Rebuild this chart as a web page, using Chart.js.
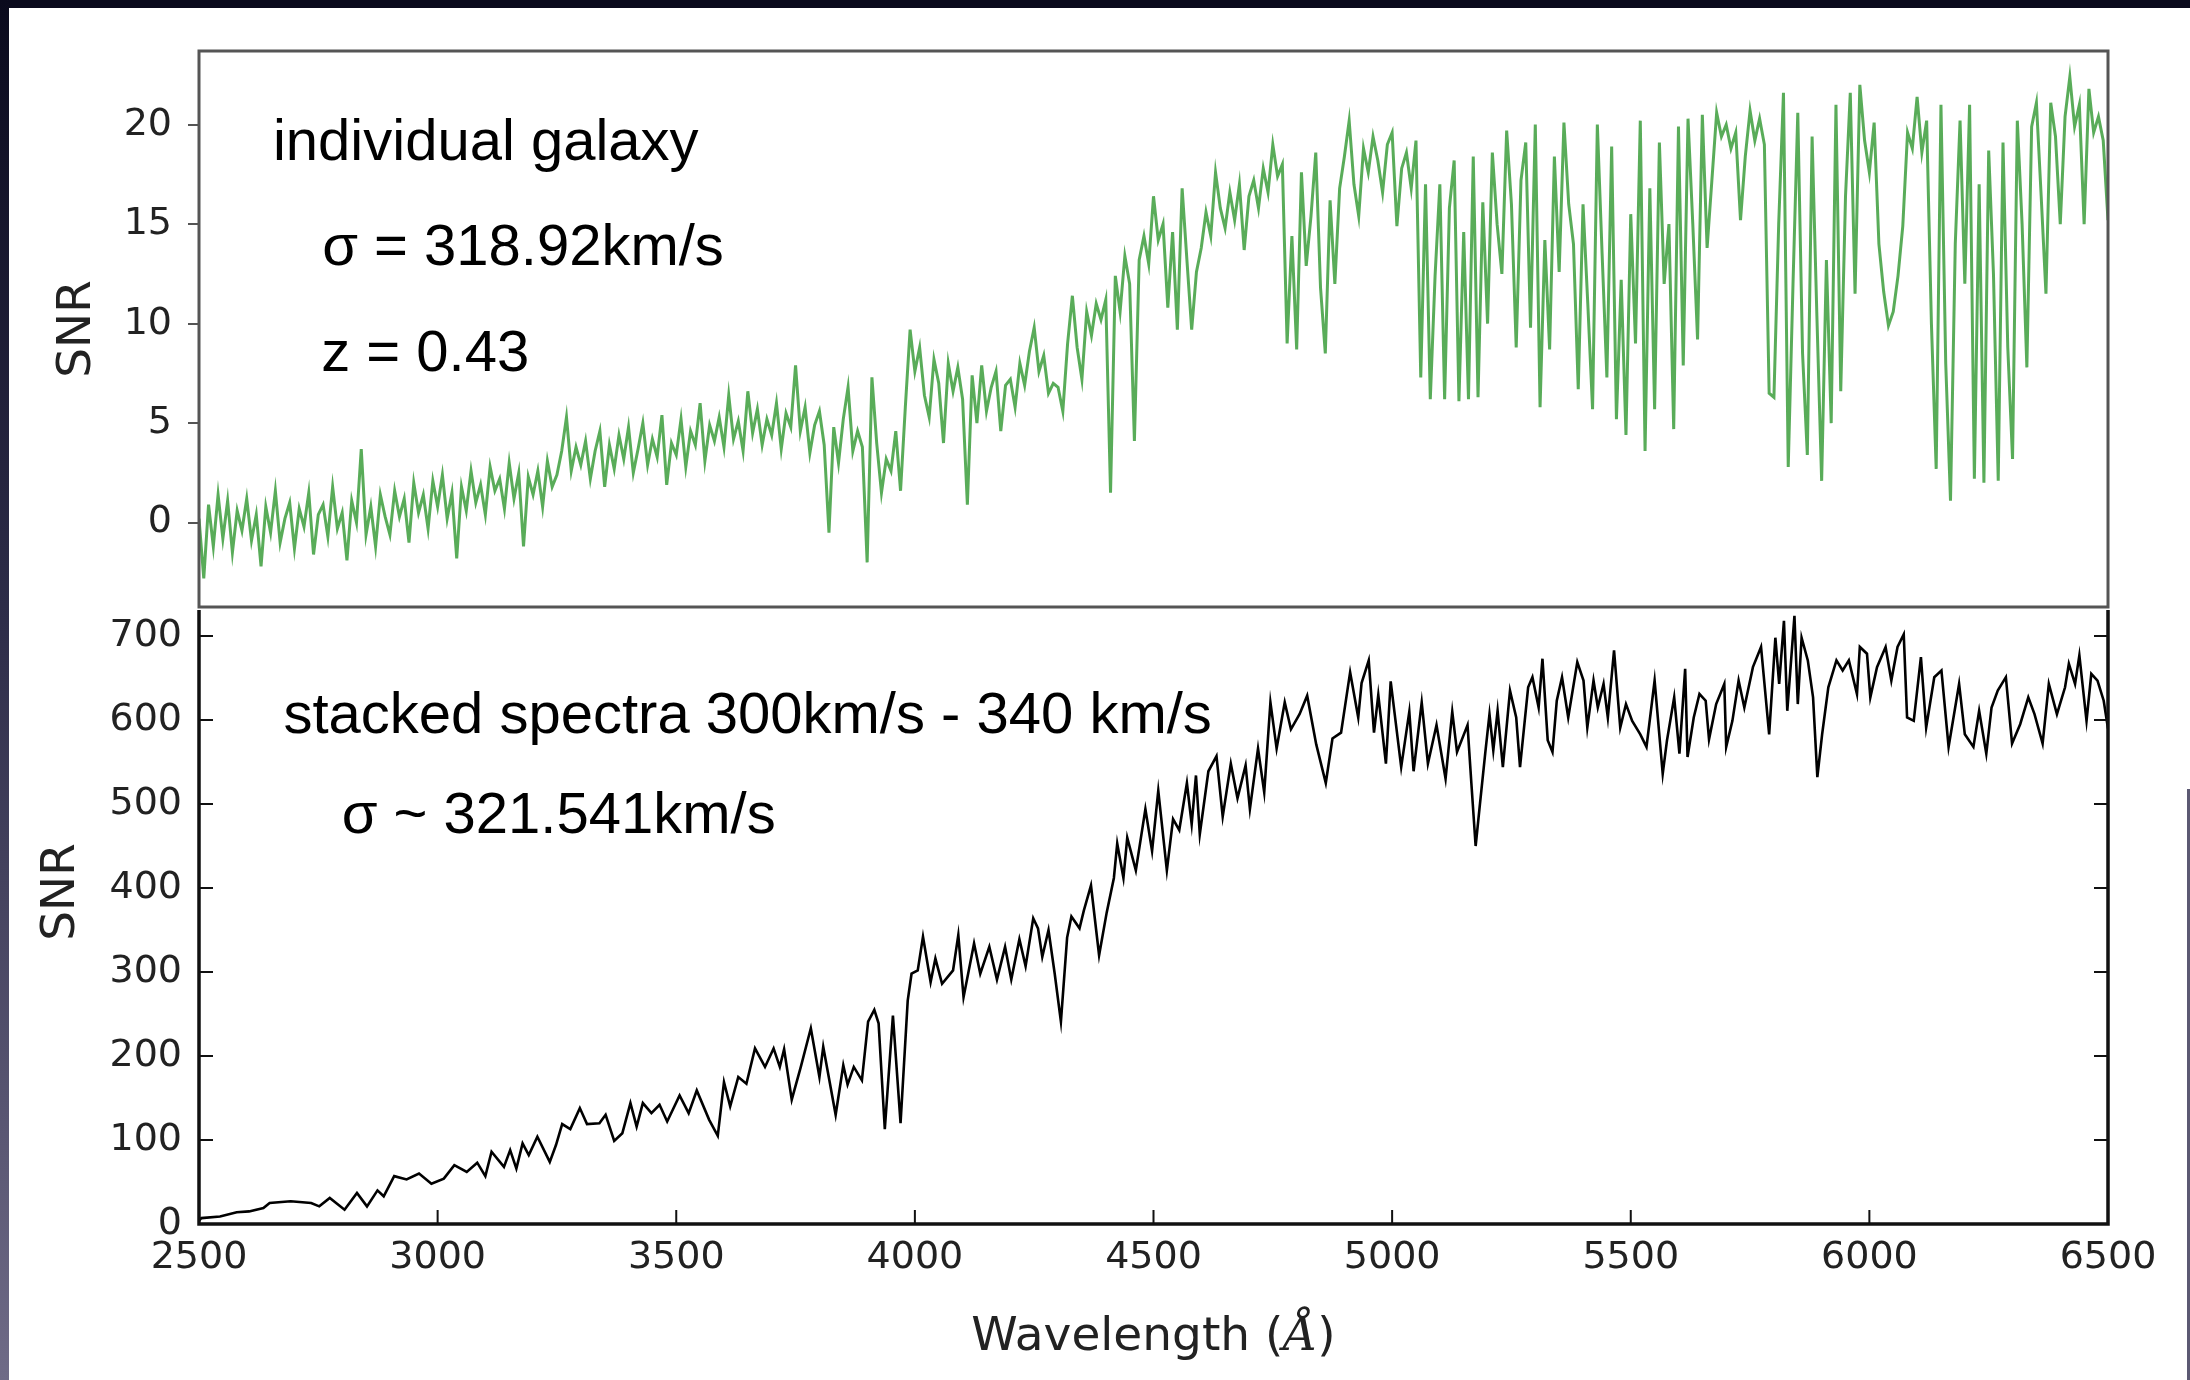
<!DOCTYPE html>
<html>
<head>
<meta charset="utf-8">
<script src="https://cdn.jsdelivr.net/npm/chart.js@4.4.1/dist/chart.umd.min.js"></script>
<style>
  html, body { margin: 0; padding: 0; background: #fff; }
  body { width: 2190px; height: 1380px; position: relative; overflow: hidden; }
  canvas { position: absolute; left: 0; top: 0; }
  .edge { position: absolute; }
</style>
</head>
<body>
<canvas id="galaxy" width="2190" height="1380"></canvas>
<canvas id="stacked" width="2190" height="1380"></canvas>
<div class="edge" style="left:0;top:0;width:2190px;height:8px;background:#0a0a1d"></div>
<div class="edge" style="left:0;top:0;width:9px;height:1380px;background:linear-gradient(#0a0a1d,#2e2d49 45%,#6f6b87)"></div>
<div class="edge" style="left:2187px;top:789px;width:3px;height:591px;background:#5c5973"></div>
<script>
// axis ticks
const wavelengthTicks = [2500, 3000, 3500, 4000, 4500, 5000, 5500, 6000, 6500];
const galaxyTicks = [0, 5, 10, 15, 20];
const stackedTicks = [0, 100, 200, 300, 400, 500, 600, 700];

// individual galaxy spectrum, sampled every 10 A from 2500 A
const galaxyStart = 2500;
const galaxyStep = 10;
const galaxySNR = [
  0.2, -2.8, 0.9, -1.2, 1.4, -0.8, 1.1, -1.5, 0.6, -0.4,
  1.2, -0.9, 0.4, -2.2, 0.8, -0.5, 1.6, -1.0, 0.2, 1.0,
  -1.3, 0.7, -0.2, 1.5, -1.6, 0.4, 0.9, -0.7, 1.8, -0.3,
  0.5, -1.9, 1.1, 0.0, 3.7, -0.6, 0.8, -1.2, 1.4, 0.3,
  -0.6, 1.6, 0.3, 1.2, -1.0, 2.0, 0.5, 1.4, -0.3, 2.1,
  0.8, 2.4, 0.2, 1.5, -1.8, 1.8, 0.6, 2.6, 1.0, 1.9,
  0.4, 2.8, 1.6, 2.2, 0.7, 3.0, 1.2, 2.5, -1.2, 2.3,
  1.4, 2.6, 0.8, 3.1, 1.8, 2.4, 3.6, 5.3, 2.6, 3.8,
  2.9, 4.1, 2.2, 3.6, 4.6, 1.8, 3.9, 2.7, 4.4, 3.2,
  4.8, 2.5, 3.7, 5.0, 2.9, 4.2, 3.3, 5.4, 1.9, 4.0,
  3.4, 5.2, 2.8, 4.6, 3.9, 6.0, 3.1, 4.9, 4.1, 5.3,
  3.8, 6.4, 4.2, 5.1, 3.6, 6.6, 4.5, 5.7, 3.9, 5.2,
  4.4, 6.0, 3.7, 5.5, 4.8, 7.9, 4.6, 5.8, 3.5, 4.9,
  5.6, 3.9, -0.5, 4.8, 3.0, 5.2, 6.8, 3.6, 4.6, 3.8,
  -2.0, 7.3, 4.0, 1.5, 3.2, 2.6, 4.6, 1.6, 5.8, 9.7,
  7.6, 8.8, 6.4, 5.3, 8.2, 7.0, 4.0, 8.0, 6.6, 7.8,
  6.2, 0.9, 7.4, 5.0, 7.9, 5.6, 6.8, 7.6, 4.6, 6.9,
  7.2, 5.8, 8.0, 6.9, 8.6, 9.8, 7.6, 8.4, 6.5, 7.0,
  6.8, 5.6, 9.0, 11.4, 8.8, 7.2, 10.6, 9.4, 11.0, 10.2,
  11.2, 1.5, 12.4, 10.6, 13.4, 12.0, 4.1, 13.2, 14.4, 13.0,
  16.4, 14.2, 15.0, 10.8, 14.6, 9.7, 16.8, 13.2, 9.7, 12.6,
  13.8, 15.6, 14.4, 17.6, 15.8, 14.8, 16.6, 15.2, 17.0, 13.7,
  16.4, 17.2, 15.8, 17.8, 16.6, 19.0, 17.4, 18.0, 9.0, 14.4,
  8.7, 17.6, 12.9, 15.4, 18.6, 11.8, 8.5, 16.2, 12.0, 16.8,
  18.4, 20.2, 17.0, 15.4, 18.8, 17.6, 19.4, 18.2, 16.6, 19.0,
  19.6, 14.9, 17.8, 18.6, 16.8, 19.2, 7.3, 17.0, 6.2, 12.4,
  17.0, 6.2, 15.8, 18.2, 6.1, 14.6, 6.2, 18.4, 6.3, 16.1,
  10.0, 18.6, 15.0, 12.5, 19.7, 16.0, 8.8, 17.2, 19.1, 9.8,
  20.0, 5.8, 14.2, 8.7, 18.4, 12.6, 20.1, 16.0, 14.0, 6.7,
  16.0, 11.0, 5.7, 20.0, 13.5, 7.3, 18.9, 5.2, 12.2, 4.4,
  15.5, 9.0, 20.2, 3.6, 16.8, 5.7, 19.1, 12.0, 15.0, 4.7,
  19.9, 7.9, 20.3, 15.0, 9.2, 20.5, 13.8, 17.2, 20.6, 19.4,
  20.0, 18.8, 19.6, 15.2, 18.4, 20.7, 19.2, 20.3, 19.0, 6.5,
  6.3, 15.0, 21.6, 2.8, 12.0, 20.6, 8.5, 3.4, 19.4, 10.4,
  2.1, 13.2, 5.0, 21.0, 6.6, 16.4, 21.6, 11.5, 22.0, 19.2,
  17.6, 20.1, 14.0, 11.6, 9.9, 10.6, 12.4, 14.9, 19.6, 18.8,
  21.4, 18.6, 20.2, 10.0, 2.7, 21.0, 8.0, 1.1, 14.0, 20.2,
  12.0, 21.0, 2.2, 17.0, 2.0, 18.7, 12.5, 2.1, 19.1, 8.8,
  3.2, 20.2, 15.0, 7.8, 19.9, 21.1, 16.4, 11.5, 21.1, 19.4,
  15.0, 20.4, 22.4, 19.9, 21.0, 15.0, 21.8, 19.6, 20.4, 19.2,
  15.2
];

// stacked spectrum
const stackedWave = [
  2500, 2505, 2544, 2579, 2605, 2635, 2648, 2692, 2735, 2752, 2774, 2805, 2831, 2852, 2874, 2887,
  2909, 2935, 2961, 2987, 3013, 3035, 3061, 3083, 3100, 3113, 3139, 3152, 3165, 3178, 3191, 3209,
  3235, 3248, 3261, 3278, 3298, 3313, 3339, 3352, 3370, 3387, 3404, 3417, 3430, 3448, 3465, 3481,
  3507, 3526, 3543, 3569, 3587, 3600, 3613, 3630, 3647, 3665, 3686, 3704, 3717, 3726, 3742, 3761,
  3782, 3800, 3808, 3834, 3850, 3859, 3872, 3889, 3902, 3915, 3924, 3937, 3954, 3970, 3985, 3993,
  4006, 4017, 4033, 4043, 4057, 4080, 4091, 4102, 4124, 4137, 4156, 4172, 4189, 4202, 4219, 4232,
  4248, 4258, 4267, 4280, 4293, 4306, 4319, 4328, 4345, 4354, 4369, 4386, 4402, 4417, 4424, 4437,
  4445, 4463, 4483, 4497, 4510, 4528, 4541, 4554, 4570, 4580, 4589, 4597, 4615, 4632, 4645, 4662,
  4676, 4693, 4702, 4719, 4732, 4745, 4758, 4775, 4788, 4806, 4822, 4841, 4861, 4875, 4893, 4912,
  4929, 4936, 4951, 4962, 4971, 4987, 4997, 5019, 5036, 5045, 5062, 5075, 5093, 5112, 5126, 5136,
  5158, 5166, 5175, 5184, 5195, 5204, 5212, 5221, 5232, 5247, 5260, 5268, 5285, 5294, 5307, 5315,
  5326, 5336, 5345, 5356, 5369, 5388, 5401, 5409, 5422, 5431, 5443, 5452, 5465, 5478, 5490, 5503,
  5520, 5533, 5550, 5567, 5576, 5591, 5602, 5614, 5619, 5632, 5644, 5657, 5664, 5679, 5696, 5700,
  5713, 5726, 5738, 5756, 5773, 5790, 5803, 5811, 5821, 5828, 5843, 5850, 5858, 5871, 5882, 5891,
  5901, 5914, 5931, 5944, 5957, 5974, 5980, 5995, 6002, 6016, 6034, 6046, 6059, 6072, 6079, 6093,
  6108, 6119, 6136, 6151, 6166, 6188, 6200, 6218, 6230, 6245, 6256, 6269, 6286, 6299, 6316, 6333,
  6346, 6363, 6376, 6393, 6410, 6418, 6431, 6440, 6455, 6465, 6478, 6491, 6500
];
const stackedSNR = [
  4, 7, 9, 14, 15, 19, 25, 27, 25, 21, 31, 17, 37, 21, 40, 33,
  57, 53, 60, 48, 54, 70, 62, 73, 57, 86, 68, 88, 66, 96, 82, 104,
  74, 94, 119, 113, 138, 119, 120, 130, 99, 108, 144, 116, 144, 132, 142, 122,
  153, 132, 159, 124, 105, 169, 140, 175, 167, 209, 187, 209, 187, 208, 148, 187,
  233, 175, 211, 130, 189, 166, 187, 171, 241, 255, 239, 113, 248, 120, 266, 298,
  302, 342, 288, 316, 286, 302, 344, 270, 334, 298, 330, 291, 330, 291, 339, 307,
  364, 352, 318, 350, 298, 241, 341, 366, 352, 373, 403, 320, 371, 412, 453, 412,
  460, 421, 494, 444, 516, 421, 482, 469, 525, 476, 534, 464, 539, 557, 485, 548,
  507, 546, 494, 566, 514, 621, 566, 621, 589, 607, 629, 571, 525, 578, 585, 657,
  603, 644, 671, 585, 630, 548, 646, 544, 610, 539, 621, 548, 594, 530, 610, 562,
  594, 525, 450, 500, 560, 607, 564, 611, 544, 635, 603, 544, 639, 651, 615, 673,
  576, 562, 623, 651, 603, 669, 647, 591, 647, 615, 643, 603, 683, 591, 619, 599,
  583, 568, 647, 536, 576, 627, 560, 661, 556, 603, 631, 623, 577, 619, 643, 568,
  599, 647, 615, 663, 687, 583, 698, 643, 718, 611, 724, 619, 698, 671, 627, 532,
  583, 639, 671, 659, 671, 631, 687, 679, 627, 663, 687, 647, 687, 702, 603, 599,
  675, 591, 651, 659, 568, 643, 583, 568, 611, 560, 615, 635, 651, 572, 595, 627,
  607, 572, 643, 607, 639, 667, 643, 677, 599, 655, 647, 623, 590
];

// text notes placed in data coordinates
const galaxyNoteText = ['individual galaxy', 'σ = 318.92km/s', 'z = 0.43'];
const galaxyNoteWave = [2655, 2758, 2756];
const galaxyNoteSNR = [18.2, 12.95, 7.6];
const stackedNoteText = ['stacked spectra 300km/s - 340 km/s', 'σ ~ 321.541km/s'];
const stackedNoteWave = [2677, 2799];
const stackedNoteSNR = [585, 466];

const galaxyPoints = galaxySNR.map((v, i) => ({ x: galaxyStart + i * galaxyStep, y: v }));
const stackedPoints = stackedWave.map((w, i) => ({ x: w, y: stackedSNR[i] }));

const tickFont = { family: 'DejaVu Sans', size: 38 };
const plainLabel = v => String(v);

function drawNotes(ctx, x, y, texts, waves, vals) {
  ctx.fillStyle = '#000';
  ctx.font = '58px "Liberation Sans"';
  ctx.textAlign = 'left';
  ctx.textBaseline = 'alphabetic';
  texts.forEach((t, i) => ctx.fillText(t, x.getPixelForValue(waves[i]), y.getPixelForValue(vals[i])));
}

function drawYTitle(ctx, cx, cy) {
  ctx.save();
  ctx.translate(cx, cy);
  ctx.rotate(-Math.PI / 2);
  ctx.fillStyle = '#222';
  ctx.font = '47px "DejaVu Sans"';
  ctx.textAlign = 'center';
  ctx.textBaseline = 'middle';
  ctx.fillText('SNR', 0, 0);
  ctx.restore();
}

const galaxyDecor = {
  id: 'galaxyDecor',
  afterDraw(chart) {
    const { ctx, chartArea: a, scales: { x, y } } = chart;
    ctx.save();
    ctx.strokeStyle = '#555';
    ctx.lineWidth = 3;
    ctx.strokeRect(a.left, a.top, a.right - a.left, a.bottom - a.top);
    drawNotes(ctx, x, y, galaxyNoteText, galaxyNoteWave, galaxyNoteSNR);
    drawYTitle(ctx, a.left - 121, (a.top + a.bottom) / 2);
    ctx.restore();
  }
};

const stackedDecor = {
  id: 'stackedDecor',
  afterDraw(chart) {
    const { ctx, chartArea: a, scales: { x, y } } = chart;
    ctx.save();
    ctx.strokeStyle = '#111';
    ctx.lineWidth = 3.5;
    ctx.beginPath();
    ctx.moveTo(a.left, a.top);
    ctx.lineTo(a.left, a.bottom);
    ctx.lineTo(a.right, a.bottom);
    ctx.lineTo(a.right, a.top);
    ctx.stroke();

    // inward ticks, matplotlib style
    ctx.lineWidth = 2;
    ctx.beginPath();
    stackedTicks.forEach(v => {
      const py = y.getPixelForValue(v);
      ctx.moveTo(a.left, py); ctx.lineTo(a.left + 14, py);
      ctx.moveTo(a.right - 14, py); ctx.lineTo(a.right, py);
    });
    wavelengthTicks.forEach(v => {
      const px = x.getPixelForValue(v);
      ctx.moveTo(px, a.bottom); ctx.lineTo(px, a.bottom - 14);
    });
    ctx.stroke();

    drawNotes(ctx, x, y, stackedNoteText, stackedNoteWave, stackedNoteSNR);
    drawYTitle(ctx, a.left - 137, (a.top + a.bottom) / 2 - 25);

    // x title with italic angstrom
    const f1 = '47px "DejaVu Sans"';
    const f2 = 'italic 47px "DejaVu Serif"';
    ctx.fillStyle = '#222';
    ctx.textBaseline = 'alphabetic';
    ctx.textAlign = 'left';
    ctx.font = f1;
    const w1 = ctx.measureText('Wavelength (').width;
    const w3 = ctx.measureText(')').width;
    ctx.font = f2;
    const w2 = ctx.measureText('Å').width;
    let px = (a.left + a.right) / 2 - (w1 + w2 + w3) / 2;
    const base = a.bottom + 126;
    ctx.font = f1; ctx.fillText('Wavelength (', px, base); px += w1;
    ctx.font = f2; ctx.fillText('Å', px, base); px += w2;
    ctx.font = f1; ctx.fillText(')', px, base);
    ctx.restore();
  }
};

new Chart(document.getElementById('galaxy'), {
  type: 'line',
  data: {
    datasets: [{
      data: galaxyPoints,
      borderColor: 'rgba(0, 128, 0, 0.65)',
      borderWidth: 3,
      pointRadius: 0,
      tension: 0
    }]
  },
  options: {
    responsive: false,
    devicePixelRatio: 1,
    animation: false,
    events: [],
    layout: { padding: { left: 0, top: 51, right: 82, bottom: 1380 - 607 } },
    plugins: { legend: { display: false }, tooltip: { enabled: false } },
    scales: {
      x: { type: 'linear', min: 2500, max: 6500, display: false },
      y: {
        min: -4.24,
        max: 23.7,
        afterBuildTicks: s => { s.ticks = galaxyTicks.map(v => ({ value: v })); },
        afterFit: s => { s.width = 199; },
        border: { display: false },
        grid: { drawOnChartArea: false, drawTicks: true, tickLength: 11, color: '#555', lineWidth: 2 },
        ticks: { font: tickFont, color: '#222', padding: 16, callback: plainLabel }
      }
    }
  },
  plugins: [galaxyDecor]
});

new Chart(document.getElementById('stacked'), {
  type: 'line',
  data: {
    datasets: [{
      data: stackedPoints,
      borderColor: '#000',
      borderWidth: 2.6,
      pointRadius: 0,
      tension: 0
    }]
  },
  options: {
    responsive: false,
    devicePixelRatio: 1,
    animation: false,
    events: [],
    layout: { padding: { left: 0, top: 610, right: 82, bottom: 1380 - 1224 - 60 } },
    plugins: { legend: { display: false }, tooltip: { enabled: false } },
    scales: {
      x: {
        type: 'linear',
        min: 2500,
        max: 6500,
        afterBuildTicks: s => { s.ticks = wavelengthTicks.map(v => ({ value: v })); },
        afterFit: s => { s.height = 60; },
        border: { display: false },
        grid: { display: false, drawTicks: false },
        ticks: { font: tickFont, color: '#222', padding: 11, maxRotation: 0, autoSkip: false, callback: plainLabel }
      },
      y: {
        min: 0,
        max: 731,
        afterBuildTicks: s => { s.ticks = stackedTicks.map(v => ({ value: v })); },
        afterFit: s => { s.width = 199; },
        border: { display: false },
        grid: { display: false, drawTicks: false },
        ticks: { font: tickFont, color: '#222', padding: 17, callback: plainLabel }
      }
    }
  },
  plugins: [stackedDecor]
});
</script>
</body>
</html>
